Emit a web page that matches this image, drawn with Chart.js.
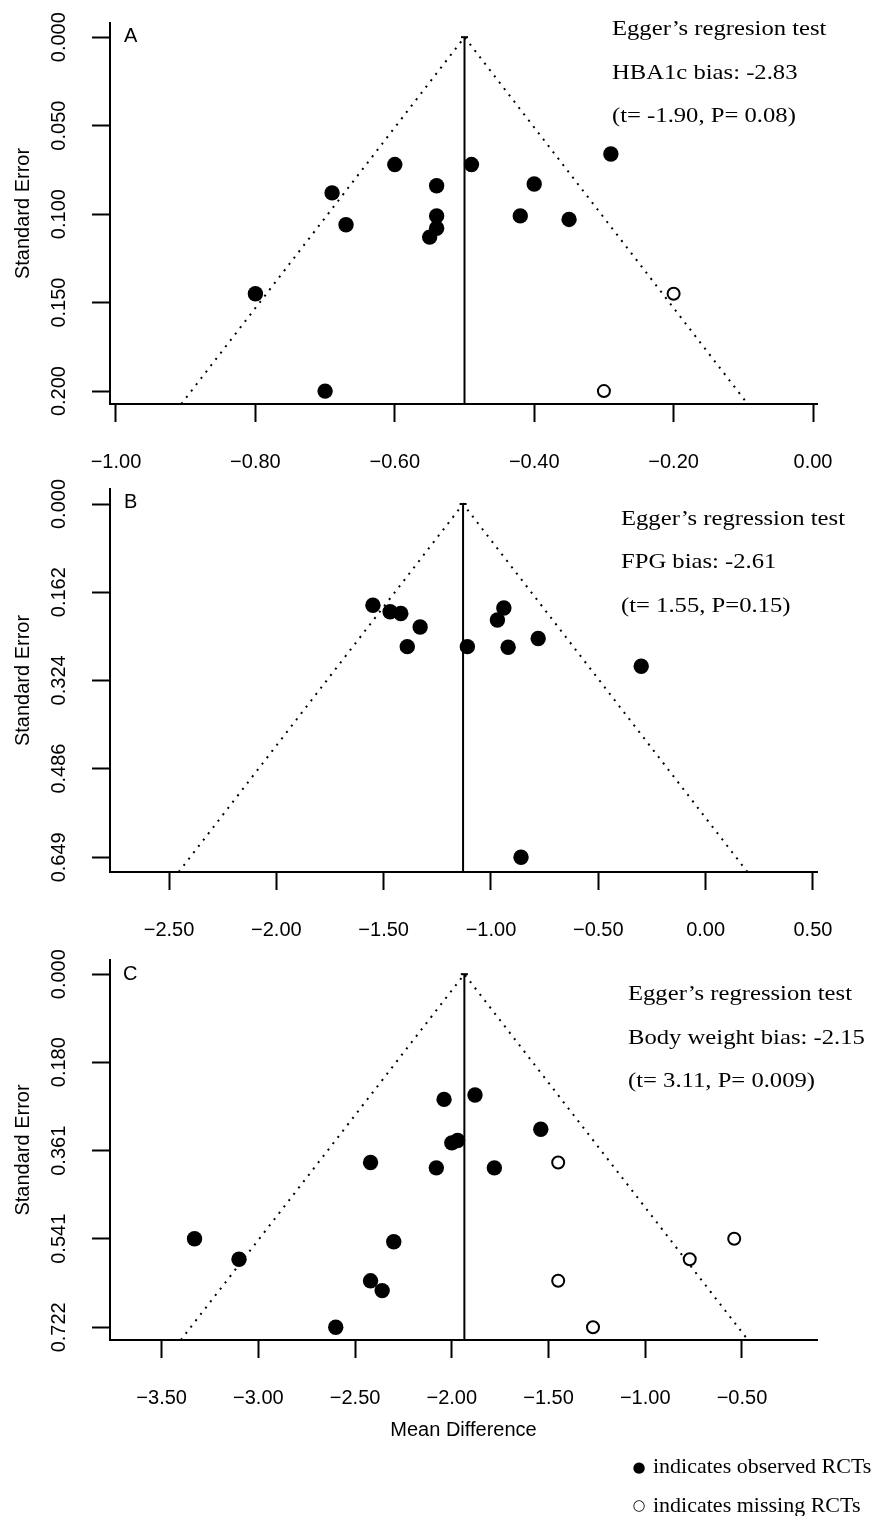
<!DOCTYPE html>
<html><head><meta charset="utf-8">
<script src="https://cdn.jsdelivr.net/npm/chart.js@4.4.1/dist/chart.umd.min.js"></script>
<style>
body{margin:0;background:#fff}
#wrap{position:relative;width:878px;height:1516px;overflow:hidden;background:#fff}
canvas{position:absolute;left:0}
</style>
</head><body><div id="wrap">
<canvas id="cA" width="878" height="480" style="top:0px"></canvas>
<canvas id="cB" width="878" height="480" style="top:470px"></canvas>
<canvas id="cC" width="878" height="576" style="top:940px"></canvas>
</div>
<script>
// ---------- Panel A : HbA1c ----------
const mdTicksA = [-1.0, -0.8, -0.6, -0.4, -0.2, 0.0];
const mdTickLabelsA = ["−1.00", "−0.80", "−0.60", "−0.40", "−0.20", "0.00"];
const seTicksA = [0, 0.05, 0.10, 0.15, 0.20];
const seTickLabelsA = ["0.000", "0.050", "0.100", "0.150", "0.200"];
const observedMdA = [-0.29, -0.60, -0.49, -0.40, -0.54, -0.69, -0.54, -0.42, -0.35, -0.67, -0.54, -0.55, -0.80, -0.70];
const observedSeA = [0.066, 0.072, 0.072, 0.083, 0.084, 0.088, 0.101, 0.101, 0.103, 0.106, 0.108, 0.113, 0.145, 0.200];
const missingMdA = [-0.20, -0.30];
const missingSeA = [0.145, 0.200];
const pooledA = -0.50;
const textA = ["Egger’s regresion test", "HBA1c bias: -2.83", "(t= -1.90, P= 0.08)"];

// ---------- Panel B : FPG ----------
const mdTicksB = [-2.5, -2.0, -1.5, -1.0, -0.5, 0.0, 0.5];
const mdTickLabelsB = ["−2.50", "−2.00", "−1.50", "−1.00", "−0.50", "0.00", "0.50"];
const seTicksB = [0, 0.162, 0.324, 0.486, 0.649];
const seTickLabelsB = ["0.000", "0.162", "0.324", "0.486", "0.649"];
const observedMdB = [-1.55, -0.94, -1.47, -1.42, -0.97, -1.33, -0.78, -1.39, -1.11, -0.92, -0.30, -0.86];
const observedSeB = [0.186, 0.191, 0.198, 0.201, 0.213, 0.226, 0.247, 0.262, 0.262, 0.263, 0.298, 0.649];
const missingMdB = [];
const missingSeB = [];
const pooledB = -1.13;
const textB = ["Egger’s regression test", "FPG bias: -2.61", "(t= 1.55, P=0.15)"];

// ---------- Panel C : Body weight ----------
const mdTicksC = [-3.5, -3.0, -2.5, -2.0, -1.5, -1.0, -0.5];
const mdTickLabelsC = ["−3.50", "−3.00", "−2.50", "−2.00", "−1.50", "−1.00", "−0.50"];
const seTicksC = [0, 0.180, 0.361, 0.541, 0.722];
const seTickLabelsC = ["0.000", "0.180", "0.361", "0.541", "0.722"];
const observedMdC = [-1.88, -2.04, -1.54, -1.97, -2.00, -2.42, -2.08, -1.78, -3.33, -2.30, -3.10, -2.42, -2.36, -2.60];
const observedSeC = [0.247, 0.256, 0.317, 0.340, 0.345, 0.385, 0.396, 0.396, 0.541, 0.547, 0.583, 0.627, 0.647, 0.722];
const missingMdC = [-1.45, -0.54, -0.77, -1.45, -1.27];
const missingSeC = [0.385, 0.541, 0.583, 0.627, 0.722];
const pooledC = -1.935;
const textC = ["Egger’s regression test", "Body weight bias: -2.15", "(t= 3.11, P= 0.009)"];

const legendTexts = ["indicates observed RCTs", "indicates missing RCTs"];
const xTitle = "Mean Difference";
const yTitle = "Standard Error";

// ---------- rendering ----------
Chart.defaults.color = '#000';
Chart.defaults.font.family = "'Liberation Sans', Arial, sans-serif";
const SANS = "'Liberation Sans', Arial, sans-serif";
const SERIF = "'Liberation Serif', 'Times New Roman', serif";

function pts(xs, ys) { return xs.map((x, i) => ({x: x, y: ys[i]})); }

function textPlugin(items) {
  return {
    id: 'txt',
    afterDraw(chart) {
      const ctx = chart.ctx;
      items.forEach(it => {
        ctx.save();
        ctx.fillStyle = '#000';
        ctx.font = it.font;
        ctx.textBaseline = 'alphabetic';
        ctx.textAlign = it.align || 'left';
        ctx.translate(it.x, it.y);
        ctx.scale(it.sx || 1, 1);
        ctx.fillText(it.text, 0, 0);
        ctx.restore();
      });
    }
  };
}

function makePanel(o) {
  const seMax = o.yMax;
  const funnel = [
    {x: o.pooled - 1.96 * seMax, y: seMax},
    {x: o.pooled, y: 0},
    {x: o.pooled + 1.96 * seMax, y: seMax}
  ];
  const center = [{x: o.pooled, y: 0}, {x: o.pooled, y: seMax}];
  const items = [];
  items.push({text: o.letter, x: o.letterX, y: o.letterY, font: "20px " + SANS});
  o.texts.forEach((t, i) => items.push({text: t, x: o.textX, y: o.textY[i], font: "22px " + SERIF, sx: 1.12}));
  if (o.extra) o.extra.forEach(e => items.push(e));
  return new Chart(document.getElementById(o.id), {
    type: 'scatter',
    data: {datasets: [
      {data: pts(o.obsX, o.obsY), pointRadius: 7.7, pointBackgroundColor: '#000', pointBorderColor: '#000', pointBorderWidth: 0, pointStyle: 'circle'},
      {data: pts(o.misX, o.misY), pointRadius: 6, pointBackgroundColor: '#fff', pointBorderColor: '#000', pointBorderWidth: 2, pointStyle: 'circle'},
      {data: center, showLine: true, borderColor: '#000', borderWidth: 2, pointRadius: [3.5, 0], pointStyle: 'line', pointBorderWidth: 2, pointBorderColor: '#000'},
      {data: funnel, showLine: true, borderColor: '#000', borderWidth: 2, borderDash: [2, 6], pointRadius: 0, tension: 0}
    ]},
    options: {
      responsive: false, animation: false, events: [],
      layout: {padding: {top: o.padTop, left: 10, right: 61, bottom: o.padBottom}},
      plugins: {legend: {display: false}, tooltip: {enabled: false}},
      scales: {
        x: {
          type: 'linear', min: o.xMin, max: o.xMax,
          afterBuildTicks: s => { s.ticks = o.xTicks.map(v => ({value: v})); },
          afterFit: s => { s.height = o.xH; },
          ticks: {autoSkip: false, maxRotation: 0, padding: 28, font: {size: 20, family: SANS}, color: '#000',
                  callback: (v, i) => o.xLabels[i]},
          grid: {drawOnChartArea: false, drawTicks: true, tickLength: 18, tickWidth: 2, tickColor: '#000'},
          border: {display: true, color: '#000', width: 2},
          title: o.xTitle ? {display: true, text: o.xTitle, font: {size: 20, family: SANS}, color: '#000', padding: {top: 0, bottom: 0}} : {display: false}
        },
        y: {
          type: 'linear', reverse: true, min: o.yMin, max: o.yMax,
          afterBuildTicks: s => { s.ticks = o.yTicks.map(v => ({value: v})); },
          afterFit: s => { s.width = 100; },
          ticks: {autoSkip: false, minRotation: 90, maxRotation: 90, crossAlign: 'center', padding: 7,
                  font: {size: 20, family: SANS}, color: '#000', callback: (v, i) => o.yLabels[i]},
          grid: {drawOnChartArea: false, drawTicks: true, tickLength: 18, tickWidth: 2, tickColor: '#000'},
          border: {display: true, color: '#000', width: 2},
          title: {display: true, text: yTitle, font: {size: 20, family: SANS}, color: '#000', padding: {top: 1, bottom: 0}}
        }
      }
    },
    plugins: [textPlugin(items)]
  });
}

// Panel A (canvas top 0)
makePanel({id: 'cA', letter: 'A', letterX: 124, letterY: 42,
  texts: textA, textX: 612, textY: [35, 79, 122],
  obsX: observedMdA, obsY: observedSeA, misX: missingMdA, misY: missingSeA, pooled: pooledA,
  xMin: -1.0086, xMax: 0.0057, yMin: -0.008, yMax: 0.2073,
  xTicks: mdTicksA, xLabels: mdTickLabelsA, yTicks: seTicksA, yLabels: seTickLabelsA,
  padTop: 23, padBottom: 6, xH: 70});

// Panel B (canvas top 470)
makePanel({id: 'cB', letter: 'B', letterX: 124, letterY: 508 - 470,
  texts: textB, textX: 621, textY: [525 - 470, 568 - 470, 612 - 470],
  obsX: observedMdB, obsY: observedSeB, misX: missingMdB, misY: missingSeB, pooled: pooledB,
  xMin: -2.775, xMax: 0.519, yMin: -0.0276, yMax: 0.676,
  xTicks: mdTicksB, xLabels: mdTickLabelsB, yTicks: seTicksB, yLabels: seTickLabelsB,
  padTop: 19, padBottom: 8, xH: 70});

// Panel C (canvas top 940)
makePanel({id: 'cC', letter: 'C', letterX: 123, letterY: 980 - 940,
  texts: textC, textX: 628, textY: [1000 - 940, 1044 - 940, 1087 - 940],
  obsX: observedMdC, obsY: observedSeC, misX: missingMdC, misY: missingSeC, pooled: pooledC,
  xMin: -3.767, xMax: -0.112, yMin: -0.029, yMax: 0.748,
  xTicks: mdTicksC, xLabels: mdTickLabelsC, yTicks: seTicksC, yLabels: seTickLabelsC,
  padTop: 20, padBottom: 74, xH: 102, xTitle: xTitle,
  extra: [
    {text: "●", x: 639, y: 1472 - 940, font: "15px 'DejaVu Sans'", align: 'center'},
    {text: legendTexts[0], x: 653, y: 1473 - 940, font: "22px " + SERIF},
    {text: "○", x: 639, y: 1510 - 940, font: "15px 'DejaVu Sans'", align: 'center'},
    {text: legendTexts[1], x: 653, y: 1512 - 940, font: "22px " + SERIF}
  ]});
</script>
</body></html>
